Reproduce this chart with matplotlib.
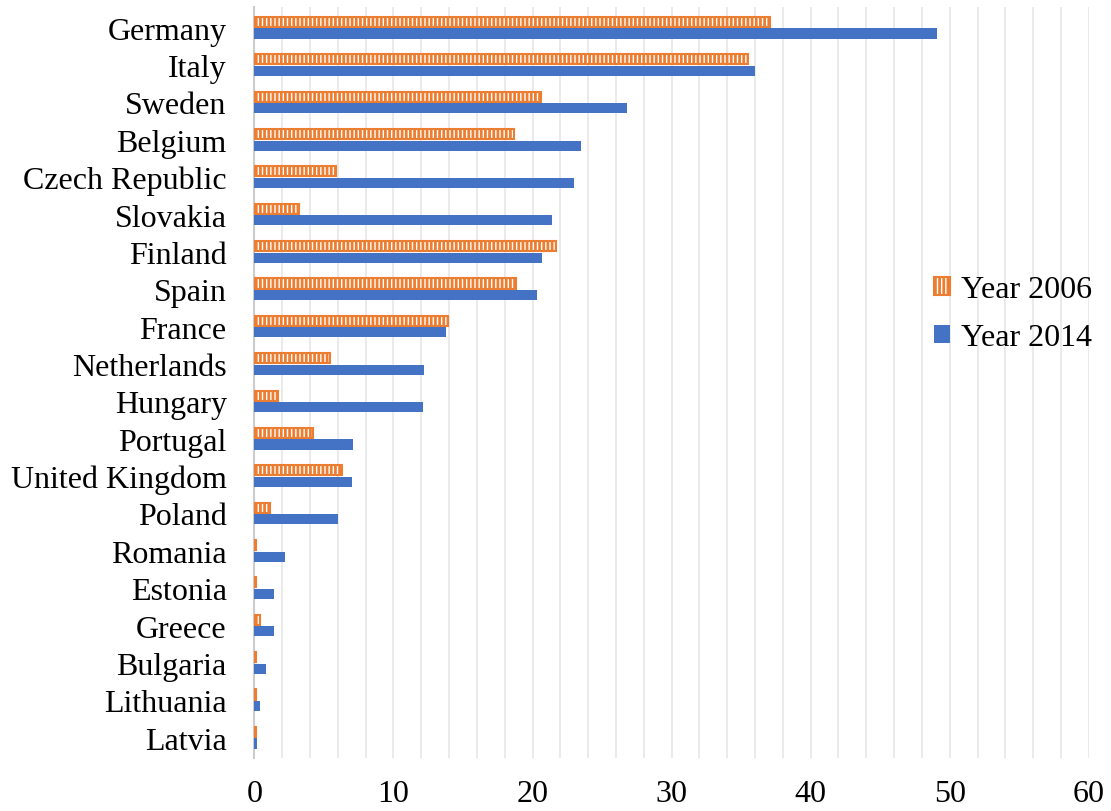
import matplotlib
matplotlib.use("Agg")
import matplotlib.pyplot as plt
import numpy as np

COUNTRIES = [
    "Germany", "Italy", "Sweden", "Belgium", "Czech Republic", "Slovakia",
    "Finland", "Spain", "France", "Netherlands", "Hungary", "Portugal",
    "United Kingdom", "Poland", "Romania", "Estonia", "Greece", "Bulgaria",
    "Lithuania", "Latvia",
]
YEAR_2006 = [37.1, 35.5, 20.6, 18.7, 5.9, 3.2, 21.7, 18.8, 13.9, 5.4,
             1.7, 4.2, 6.3, 1.1, 0.1, 0.1, 0.4, 0.1, 0.1, 0.1]
YEAR_2014 = [49.1, 36.0, 26.8, 23.5, 23.0, 21.4, 20.7, 20.3, 13.8, 12.2,
             12.1, 7.1, 7.0, 6.0, 2.2, 1.4, 1.4, 0.8, 0.4, 0.2]
X_TICKS = [0, 10, 20, 30, 40, 50, 60]

ORANGE = "#ED7D31"
BLUE = "#4472C4"

plt.rcParams["font.family"] = ["Liberation Serif", "DejaVu Serif"]
plt.rcParams["hatch.linewidth"] = 2.0


def main():
    fig = plt.figure(figsize=(11.11, 8.12), dpi=100)
    ax = fig.add_axes([0.229, 0.065, 0.751, 0.925])

    y = np.arange(len(COUNTRIES))
    h = 0.27
    ax.barh(y - h / 2 - 0.02, YEAR_2006, height=h, color="white",
            edgecolor=ORANGE, hatch="||||", linewidth=1.5, label="Year 2006",
            zorder=3)
    ax.barh(y + h / 2 + 0.02, YEAR_2014, height=h, color=BLUE,
            label="Year 2014", zorder=3)

    ax.set_xlim(0, 60)
    ax.set_ylim(len(COUNTRIES) - 0.45, -0.55)
    ax.set_yticks(y)
    ax.set_yticklabels(COUNTRIES, fontsize=23)
    ax.set_xticks(X_TICKS)
    ax.set_xticklabels([str(t) for t in X_TICKS], fontsize=23)
    ax.set_xticks(np.arange(0, 61, 2), minor=True)
    ax.grid(axis="x", which="both", color="#e6e6e6", linewidth=1.2, zorder=0)
    ax.tick_params(axis="y", length=0, pad=20)
    ax.tick_params(axis="x", length=0, pad=15)
    ax.tick_params(axis="x", which="minor", length=0)
    for side in ["top", "right", "bottom"]:
        ax.spines[side].set_visible(False)
    ax.spines["left"].set_color("#cccccc")
    ax.spines["left"].set_linewidth(1.5)

    ax.legend(loc="center left", bbox_to_anchor=(0.78, 0.592), frameon=False,
              fontsize=23, handlelength=0.5, handleheight=0.5,
              handletextpad=0.35, labelspacing=0.6)

    fig.savefig("out.png", dpi=100)


if __name__ == "__main__":
    main()
